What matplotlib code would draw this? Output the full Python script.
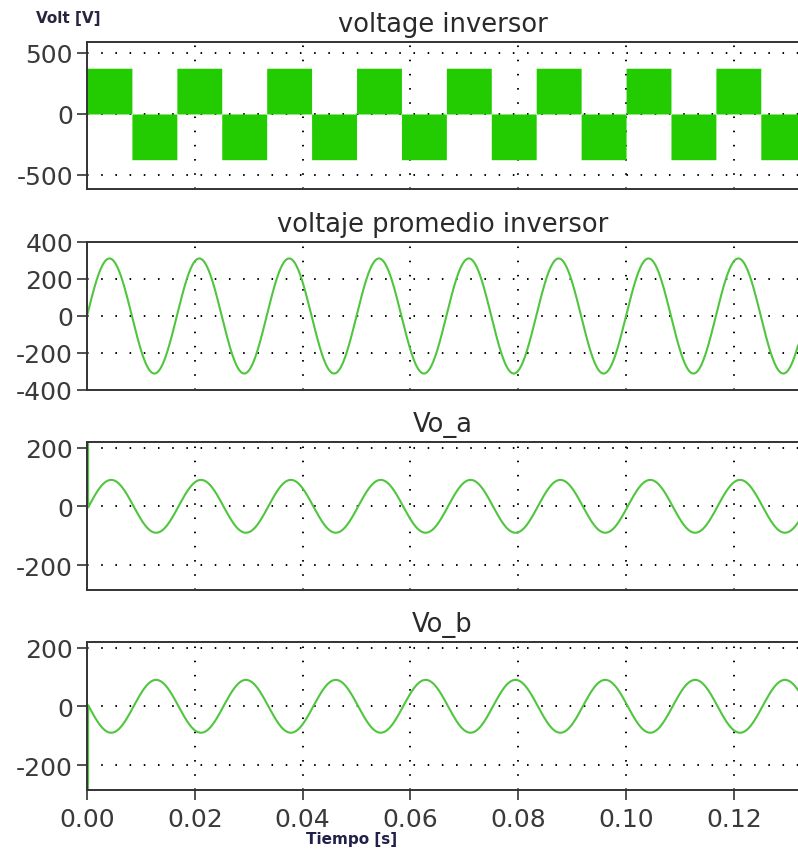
import numpy as np
import matplotlib.pyplot as plt

# Valores (simulacion tipo PSIM)
t_fin = 0.1319          # s, borde derecho visible
frecuencia = 60.0       # Hz
amp_cuadrada = 375.0    # V, voltage inversor (PWM lleno)
amp_promedio = 311.0    # V, voltaje promedio inversor
amp_vo = 90.0           # V, Vo_a y Vo_b
fase_vo = 0.12          # rad de atraso
t_salto = 0.0002        # s, transitorio inicial de Vo_a / Vo_b
vo_a_inicio = 300.0     # valor del transitorio (sale del eje)
vo_b_inicio = -300.0

titulos = ['voltage inversor', 'voltaje promedio inversor', 'Vo_a', 'Vo_b']
y_limites = [(-615, 590), (-400, 400), (-285, 219), (-285, 219)]
y_ticks = [[-500, 0, 500], [-400, -200, 0, 200, 400], [-200, 0, 200], [-200, 0, 200]]
x_ticks = [0.00, 0.02, 0.04, 0.06, 0.08, 0.10, 0.12]

verde_pwm = '#22CC00'
verde_linea = '#4FC63E'
gris = '#333333'

plt.rcParams['axes.unicode_minus'] = False
plt.rcParams['font.family'] = 'DejaVu Sans'

t = np.linspace(0, t_fin, 20001)
w = 2*np.pi*frecuencia
v_pwm = amp_cuadrada*np.sign(np.sin(w*t))
v_prom = amp_promedio*np.sin(w*t)

# Vo_a y Vo_b: transitorio vertical y luego la senoidal
t_sen = t[t > t_salto]
t_vo = np.concatenate(([0.0, t_salto], t_sen))
vo_a = np.concatenate(([vo_a_inicio, vo_a_inicio], amp_vo*np.sin(w*t_sen - fase_vo)))
vo_b = np.concatenate(([vo_b_inicio, vo_b_inicio], -amp_vo*np.sin(w*t_sen - fase_vo)))

fig = plt.figure(figsize=(7.98, 8.54), dpi=100)

izq = 87/798
ancho = 1 - izq
posiciones = [(43, 190), (243, 391), (443, 591), (643, 791)]
axes = []
for (arriba, abajo) in posiciones:
    ax = fig.add_axes([izq, 1 - abajo/854, ancho, (abajo - arriba)/854])
    axes.append(ax)

axes[0].fill_between(t, 0, v_pwm, color=verde_pwm, linewidth=0)
axes[1].plot(t, v_prom, color=verde_linea, lw=1.5)
axes[2].plot(t_vo, vo_a, color=verde_linea, lw=1.5)
axes[3].plot(t_vo, vo_b, color=verde_linea, lw=1.5)

for i, ax in enumerate(axes):
    ax.set_xlim(0, t_fin)
    ax.set_ylim(*y_limites[i])
    ax.set_xticks(x_ticks)
    ax.set_yticks(y_ticks[i])
    ax.set_axisbelow(True)
    ax.grid(True, color='black', linestyle=(0, (0.8, 6.5)), linewidth=1.4)
    for lado in ['left', 'top', 'bottom']:
        ax.spines[lado].set_color(gris)
        ax.spines[lado].set_linewidth(1.4)
    ax.spines['right'].set_visible(False)
    ax.tick_params(axis='y', direction='out', length=7, width=1.2, color=gris,
                   labelsize=18, labelcolor='#3a3a3a', pad=3)
    ax.set_title(titulos[i], fontsize=18.5, color='#2a2a2a', pad=8)
    if i < 3:
        ax.tick_params(axis='x', bottom=False, labelbottom=False)
    else:
        ax.tick_params(axis='x', direction='out', length=7, width=1.2, color=gris,
                       labelsize=18, labelcolor='#3a3a3a', pad=5)
        ax.set_xticklabels([f'{x:.2f}' for x in x_ticks])

fig.text(68/798, 1 - 19/854, 'Volt [V]', ha='center', va='center',
         fontsize=11, fontweight='bold', color='#2b2440')
fig.text(352/798, 1 - 840/854, 'Tiempo [s]', ha='center', va='center',
         fontsize=11, fontweight='bold', color='#20204a')

fig.savefig('out.png', dpi=100)
